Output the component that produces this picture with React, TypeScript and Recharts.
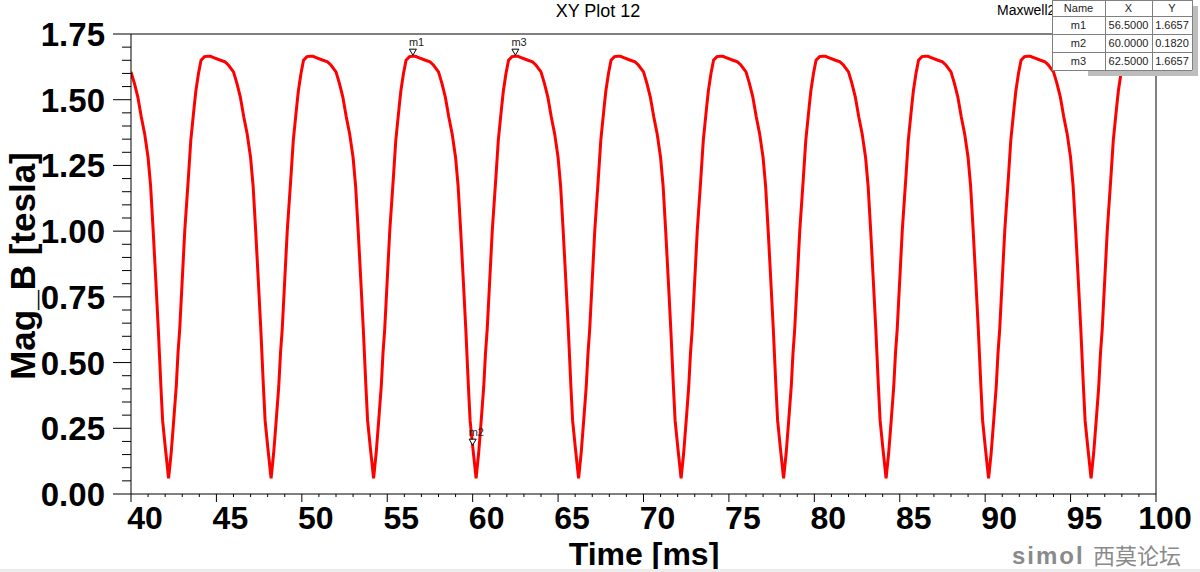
import React from 'react';
import { LineChart, Line, XAxis, YAxis, ReferenceDot, ReferenceLine } from 'recharts';

// ---------------------------------------------------------------------------
// Data: one period of |B| (offsets in ms from a minimum)
// ---------------------------------------------------------------------------
const cycleOffsets = [
  0, 0.15, 0.3, 0.45, 0.55, 0.65, 0.8, 0.95, 1.15, 1.3, 1.5, 1.6, 1.75, 1.9, 2.1, 2.3, 2.45,
  2.6, 3.0, 3.3, 3.5, 3.8, 4.0, 4.2, 4.4, 4.6, 4.8, 4.95, 5.1, 5.25, 5.4, 5.55, 5.65, 5.8,
];
const cycleValues = [
  0.06, 0.155, 0.28, 0.41, 0.535, 0.625, 0.815, 1.005, 1.195, 1.345, 1.475, 1.535, 1.6, 1.65,
  1.664, 1.6657, 1.665, 1.661, 1.651, 1.644, 1.632, 1.606, 1.562, 1.51, 1.435, 1.37, 1.28, 1.17,
  1.0, 0.815, 0.625, 0.41, 0.28, 0.182,
];
// times of the minima of each period
const cycleMinima = [36.2, 42.2, 48.2, 54.2, 60.2, 66.2, 72.2, 78.2, 84.2, 90.2, 96.2];

const markerNames = ['m1', 'm2', 'm3'];
const markerX = [56.5, 60.0, 62.5];
const markerY = [1.6657, 0.182, 1.6657];

const xMajorTicks = [40, 45, 50, 55, 60, 65, 70, 75, 80, 85, 90, 95, 100];
const yMajorTicks = [0, 0.25, 0.5, 0.75, 1.0, 1.25, 1.5, 1.75];

const data: { t: number; b: number }[] = [];
cycleMinima.forEach((m) => {
  cycleOffsets.forEach((off, i) => {
    const t = Math.round((m + off) * 100) / 100;
    if (t >= 40 && t <= 100) data.push({ t, b: cycleValues[i] });
  });
});

// minor ticks: 1 ms on x, 0.05 T on y
const xTicks: number[] = [];
for (let v = 40; v <= 100; v++) xTicks.push(v);
const yTicks: number[] = [];
for (let i = 0; i <= 35; i++) yTicks.push(Math.round(i * 5) / 100);

const FONT = '"Liberation Sans", Arial, sans-serif';

const XTick = (props: any) => {
  const { x, y, payload } = props;
  const v = payload.value as number;
  const major = xMajorTicks.includes(v);
  const label = String(v);
  return (
    <g>
      <line x1={x} x2={x} y1={y} y2={y + (major ? 8 : 3)} stroke="#000" />
      {major && (
        <text
          x={x + (label.length > 2 ? 9 : 14)}
          y={y + 35}
          textAnchor="middle"
          fontFamily={FONT}
          fontWeight="bold"
          fontSize={32}
          fill="#000"
        >
          {label}
        </text>
      )}
    </g>
  );
};

const YTick = (props: any) => {
  const { x, y, payload } = props;
  const v = payload.value as number;
  const major = yMajorTicks.some((m) => Math.abs(m - v) < 1e-6);
  return (
    <g>
      <line x1={x - (major ? 18 : 9)} x2={x} y1={y} y2={y} stroke="#000" />
      {major && (
        <text
          x={x - 26}
          y={y + 12}
          textAnchor="end"
          fontFamily={FONT}
          fontWeight="bold"
          fontSize={33}
          fill="#000"
        >
          {v.toFixed(2)}
        </text>
      )}
    </g>
  );
};

const MarkerShape = (name: string) => (props: any) => {
  const { cx, cy } = props;
  return (
    <g>
      <path
        d={`M${cx - 3.5},${cy - 7} L${cx + 3.5},${cy - 7} L${cx},${cy - 1} Z`}
        fill="#fff"
        stroke="#000"
        strokeWidth={1}
      />
      <text x={cx - 4} y={cy - 10} fontFamily={FONT} fontSize={11} fill="#222">
        {name}
      </text>
    </g>
  );
};

const tableRows = markerNames.map((n, i) => [n, markerX[i].toFixed(4), markerY[i].toFixed(4)]);
const colX = [1052, 1105, 1152, 1192];
const rowY = [0, 16, 34, 52, 70];

export default function App() {
  return (
    <div style={{ position: 'absolute', left: 0, top: 0, width: 1200, height: 572, background: '#fff' }}>
      <LineChart
        width={1200}
        height={572}
        data={data}
        margin={{ top: 34, right: 44, left: 0, bottom: 0 }}
      >
        <XAxis
          dataKey="t"
          type="number"
          domain={[40, 100]}
          ticks={xTicks}
          interval={0}
          height={78}
          tickSize={0}
          tickMargin={0}
          tickLine={false}
          axisLine={{ stroke: '#000' }}
          tick={<XTick />}
          allowDataOverflow
        />
        <YAxis
          type="number"
          domain={[0, 1.75]}
          ticks={yTicks}
          interval={0}
          width={131}
          tickSize={0}
          tickMargin={0}
          tickLine={false}
          axisLine={{ stroke: '#000' }}
          tick={<YTick />}
          allowDataOverflow
        />
        <ReferenceLine y={1.75} stroke="#000" />
        <ReferenceLine x={100} stroke="#000" />
        <Line
          type="linear"
          dataKey="b"
          stroke="#ff0000"
          strokeWidth={3}
          dot={false}
          isAnimationActive={false}
        />
        {markerNames.map((n, i) => (
          <ReferenceDot
            key={n}
            x={markerX[i]}
            y={markerY[i]}
            r={3}
            ifOverflow="visible"
            shape={MarkerShape(n)}
          />
        ))}
      </LineChart>

      <svg
        width={1200}
        height={572}
        style={{ position: 'absolute', left: 0, top: 0, pointerEvents: 'none' }}
      >
        <text x={598} y={17} textAnchor="middle" fontFamily={FONT} fontSize={18} fill="#000">
          XY Plot 12
        </text>
        <text x={997} y={15} fontFamily={FONT} fontSize={14} fill="#000">
          Maxwell2
        </text>

        {/* marker table with drop shadow */}
        <rect x={1088} y={6} width={110} height={70} fill="#bdbdbd" />
        <rect x={colX[0]} y={rowY[0]} width={colX[3] - colX[0]} height={rowY[4] - rowY[0]} fill="#fff" />
        {rowY.map((y) => (
          <line key={'r' + y} x1={colX[0]} x2={colX[3]} y1={y + 0.5} y2={y + 0.5} stroke="#808080" />
        ))}
        {colX.map((x) => (
          <line key={'c' + x} x1={x + 0.5} x2={x + 0.5} y1={rowY[0]} y2={rowY[4]} stroke="#808080" />
        ))}
        {['Name', 'X', 'Y'].map((h, c) => (
          <text
            key={h}
            x={(colX[c] + colX[c + 1]) / 2}
            y={12}
            textAnchor="middle"
            fontFamily={FONT}
            fontSize={11}
            fill="#222"
          >
            {h}
          </text>
        ))}
        {tableRows.map((row, r) =>
          row.map((cell, c) => (
            <text
              key={r + '-' + c}
              x={(colX[c] + colX[c + 1]) / 2}
              y={rowY[r + 1] + 13}
              textAnchor="middle"
              fontFamily={FONT}
              fontSize={11}
              fill="#222"
            >
              {cell}
            </text>
          ))
        )}

        {/* axis titles */}
        <text
          transform="translate(35,266) rotate(-90)"
          textAnchor="middle"
          fontFamily={FONT}
          fontWeight="bold"
          fontSize={35}
          fill="#000"
        >
          Mag_B [tesla]
        </text>
        <text x={644} y={565} textAnchor="middle" fontFamily={FONT} fontWeight="bold" fontSize={32} fill="#000">
          Time [ms]
        </text>

        {/* watermark */}
        <text x={1012} y={564} fontFamily={FONT} fontWeight="bold" fontSize={24} fill="#8a8a8a" letterSpacing={2}>
          simol
        </text>
        <text x={1093} y={564} fontFamily='"Noto Sans CJK SC", sans-serif' fontSize={22} fill="#8a8a8a">
          西莫论坛
        </text>
        <rect x={0} y={569} width={1200} height={3} fill="#ececec" />
      </svg>
    </div>
  );
}
